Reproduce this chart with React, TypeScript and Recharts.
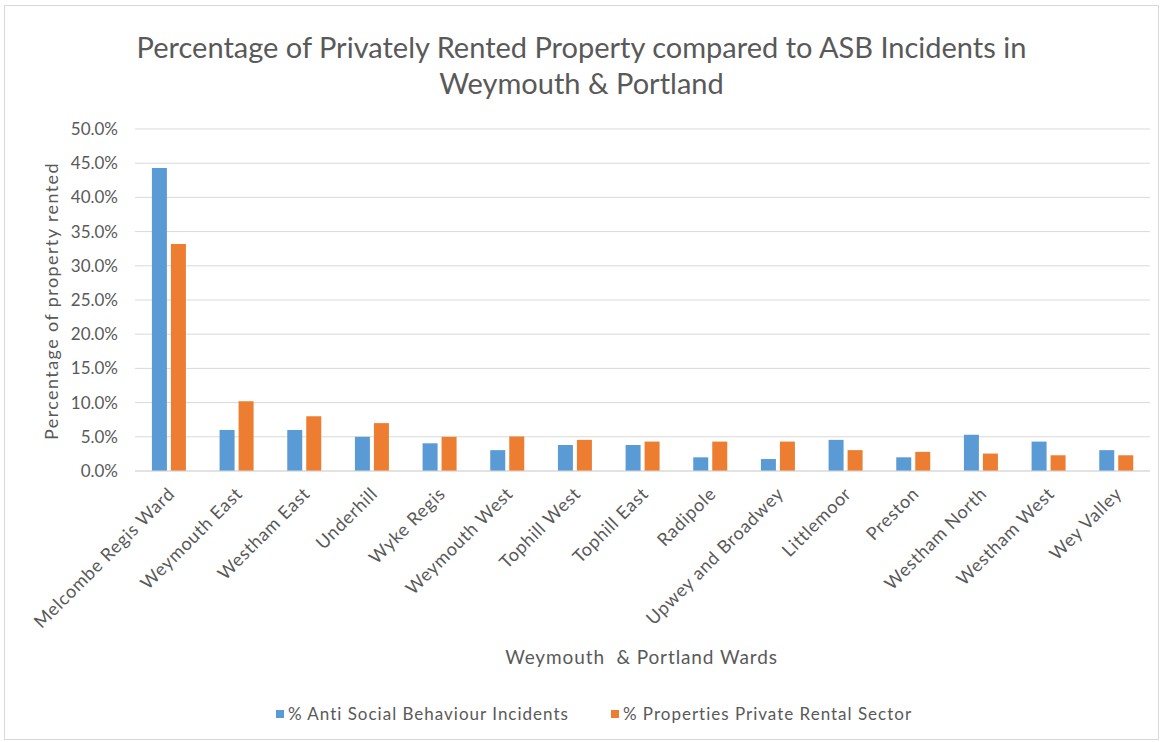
import React from "react";
import { BarChart, Bar, XAxis, YAxis, CartesianGrid, Label } from "recharts";

const wards = [
  "Melcombe Regis Ward",
  "Weymouth East",
  "Westham East",
  "Underhill",
  "Wyke Regis",
  "Weymouth West",
  "Tophill West",
  "Tophill East",
  "Radipole",
  "Upwey and Broadwey",
  "Littlemoor",
  "Preston",
  "Westham North",
  "Westham West",
  "Wey Valley",
];
const asbPct = [44.3, 6.0, 6.0, 5.0, 4.05, 3.05, 3.8, 3.8, 2.0, 1.75, 4.55, 2.0, 5.3, 4.3, 3.05];
const rentalPct = [33.2, 10.2, 8.0, 7.0, 5.0, 5.05, 4.55, 4.3, 4.3, 4.3, 3.05, 2.8, 2.55, 2.3, 2.3];
const yTicks = [0, 5, 10, 15, 20, 25, 30, 35, 40, 45, 50];

const titleLines = [
  "Percentage of Privately Rented Property compared to ASB Incidents in",
  "Weymouth & Portland",
];
const yTitle = "Percentage of property rented";
const xTitle = "Weymouth  & Portland Wards";
const seriesNames = ["% Anti Social Behaviour Incidents", "% Properties Private Rental Sector"];
const colors = ["#5B9BD5", "#ED7D31"];

const data = wards.map((w, i) => ({ ward: w, asb: asbPct[i], rental: rentalPct[i] }));

const FONT = "Lato, 'Open Sans', sans-serif";
const TXT = "#595959";

const XTick = (props: any) => {
  const { x, y, payload } = props;
  return (
    <g transform={`translate(${x + 7},${y + 24})`}>
      <text transform="rotate(-45)" textAnchor="end" fill={TXT} fontSize={18} letterSpacing={0.7} fontFamily={FONT}>
        {payload.value}
      </text>
    </g>
  );
};

export default function App() {
  return (
    <div style={{ position: "absolute", left: 0, top: 0, width: 1163, height: 742, background: "#fff", fontFamily: FONT }}>
      <div style={{ position: "absolute", left: 4, top: 5, width: 1155, height: 735, border: "1px solid #d9d9d9", boxSizing: "border-box" }} />
      <div style={{ position: "absolute", left: 0, top: 29, width: 1163, textAlign: "center", color: TXT, fontSize: 29, lineHeight: "36px" }}>
        {titleLines.map((t) => (
          <div key={t}>{t}</div>
        ))}
      </div>
      <div style={{ position: "absolute", left: 0, top: 0 }}>
        <BarChart
          width={1163}
          height={742}
          data={data}
          margin={{ top: 129, right: 13, bottom: 121, left: 0 }}
          barCategoryGap="25%"
          barGap={4}
        >
          <CartesianGrid vertical={false} stroke="#d9d9d9" />
          <YAxis
            width={135}
            domain={[0, 50]}
            ticks={yTicks}
            interval={0}
            tickFormatter={(v: number) => v.toFixed(1) + "%"}
            axisLine={false}
            tickLine={false}
            tickMargin={11}
            tick={{ fill: TXT, fontSize: 17, fontFamily: FONT }}
          >
            <Label
              content={() => (
                <text x={51} y={301} transform="rotate(-90, 51, 301)" textAnchor="middle" dominantBaseline="central" fill={TXT} fontSize={18} letterSpacing={1.4} fontFamily={FONT}>
                  {yTitle}
                </text>
              )}
            />
          </YAxis>
          <XAxis
            dataKey="ward"
            interval={0}
            height={150}
            tick={<XTick />}
            tickLine={false}
            tickSize={0}
            tickMargin={0}
            axisLine={{ stroke: "#d9d9d9" }}
          />
          <Bar dataKey="asb" name={seriesNames[0]} fill={colors[0]} isAnimationActive={false} />
          <Bar dataKey="rental" name={seriesNames[1]} fill={colors[1]} isAnimationActive={false} />
        </BarChart>
      </div>
      <div style={{ position: "absolute", left: 0, top: 646, width: 1163, paddingLeft: 120, boxSizing: "border-box", textAlign: "center", color: TXT, fontSize: 19, letterSpacing: 0.9, lineHeight: "22px" }}>
        {xTitle.replace(/ /g, "\u00a0")}
      </div>
      <div style={{ position: "absolute", left: 0, top: 703, width: 1163, paddingLeft: 25, boxSizing: "border-box", display: "flex", justifyContent: "center", color: TXT, fontSize: 17, letterSpacing: 1, lineHeight: "22px" }}>
        {seriesNames.map((n, i) => (
          <div key={n} style={{ display: "flex", alignItems: "center", marginLeft: i ? 42 : 0 }}>
            <span style={{ display: "inline-block", width: 8, height: 8, background: colors[i], marginRight: 4 }} />
            <span>{n}</span>
          </div>
        ))}
      </div>
    </div>
  );
}
